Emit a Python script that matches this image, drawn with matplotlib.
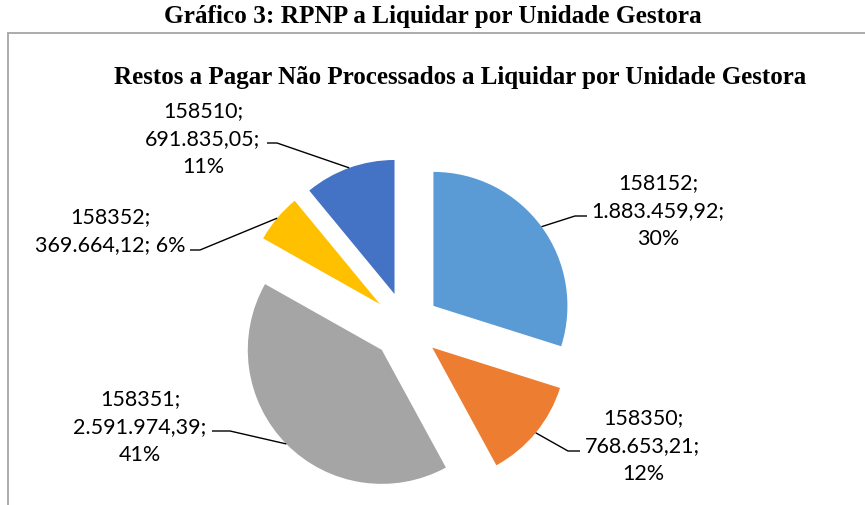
import numpy as np
import matplotlib.pyplot as plt
from matplotlib.patches import Rectangle

# dados do gráfico
unidades = ['158152', '158350', '158351', '158352', '158510']
valores = [1883459.92, 768653.21, 2591974.39, 369664.12, 691835.05]
cores = ['#5B9BD5', '#ED7D31', '#A5A5A5', '#FFC000', '#4472C4']

titulo = 'Gráfico 3: RPNP a Liquidar por Unidade Gestora'
subtitulo = 'Restos a Pagar Não Processados a Liquidar por Unidade Gestora'

W, H = 865, 506

# posição dos rótulos (centro do texto, em pixels) e cotovelo da linha guia
rotulo_xy = [(658, 211), (643, 446), (140, 427), (110, 231), (203, 139)]
cotovelo = [((575, 217), (587, 217)),
            ((568, 452), (580, 452)),
            ((230, 432), (212, 432)),
            ((200, 251), (190, 251)),
            ((277, 144), (267, 144))]


def fmt_br(v):
    s = f'{v:,.2f}'
    return s.replace(',', 'X').replace('.', ',').replace('X', '.')


def py(y):
    return H - y


fig = plt.figure(figsize=(W / 100, H / 100), dpi=100)
ax = fig.add_axes([0, 0, 1, 1])

wedges, _ = ax.pie(valores, colors=cores, startangle=90, counterclock=False,
                   center=(406, py(327)), radius=134, explode=[34] * 5,
                   wedgeprops=dict(linewidth=0))
ax.set_xlim(0, W)
ax.set_ylim(0, H)
ax.set_aspect('auto')
ax.axis('off')

total = sum(valores)
fonte = 'Lato'
for i, w in enumerate(wedges):
    pct = f'{round(valores[i] / total * 100)}%'
    if unidades[i] == '158352':
        txt = f'{unidades[i]};\n{fmt_br(valores[i])}; {pct}'
    else:
        txt = f'{unidades[i]};\n{fmt_br(valores[i])};\n{pct}'
    tx, ty = rotulo_xy[i]
    ax.text(tx, py(ty), txt, ha='center', va='center', fontsize=15.5,
            family=fonte, color='#000000', linespacing=1.5)
    # linha guia: do ponto médio da borda do setor até o rótulo
    tm = np.deg2rad((w.theta1 + w.theta2) / 2)
    x0 = w.center[0] + w.r * np.cos(tm)
    y0 = w.center[1] + w.r * np.sin(tm)
    (xe, ye), (xf, yf) = cotovelo[i]
    ax.plot([x0, xe, xf], [y0, py(ye), py(yf)], color='#000000', lw=1.0,
            solid_capstyle='butt')

fig.text(0.5, py(17) / H, titulo, ha='center', va='center', fontsize=18.2,
         family='Liberation Serif', weight='bold')
ax.text(460, py(77), subtitulo, ha='center', va='center', fontsize=18,
        family='Liberation Serif', weight='bold')

fig.add_artist(Rectangle((8 / W, -0.1), 2, (H - 34) / H + 0.1,
                         transform=fig.transFigure, fill=False,
                         edgecolor='#A6A6A6', lw=1.3))

fig.savefig('out.png', dpi=100)
